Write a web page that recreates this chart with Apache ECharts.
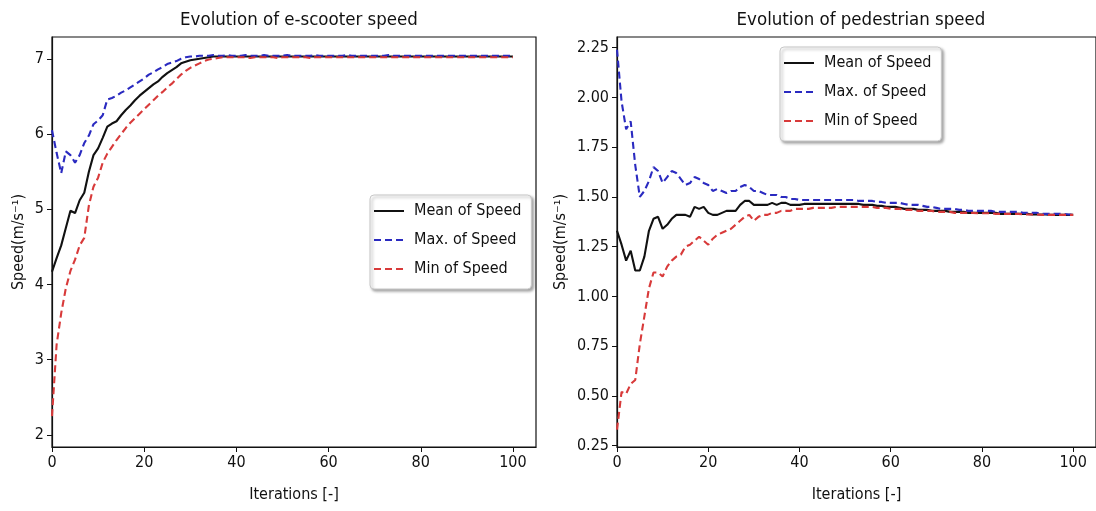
<!DOCTYPE html>
<html>
<head>
<meta charset="utf-8">
<script src="https://cdn.jsdelivr.net/npm/echarts@6/dist/echarts.min.js"></script>
<style>
html,body{margin:0;padding:0;background:#fff;}
#chart{width:1096px;height:511px;}
</style>
</head>
<body>
<div id="chart"></div>
<script>
// ---- data ----
const iterations = Array.from({length: 101}, (_, i) => i);

const scooterMean = [4.17,4.35,4.52,4.75,4.98,4.95,5.12,5.22,5.50,5.72,5.81,5.95,6.10,6.14,6.17,6.25,6.32,6.38,6.45,6.51,
  6.56,6.61,6.66,6.70,6.76,6.81,6.85,6.89,6.94,6.96,6.98,6.99,7.00,7.01,7.02,7.03,7.03,7.03,7.03,7.03,
  7.03,7.03,7.03,7.03,7.03,7.03,7.03,7.03,7.03,7.03,7.03,7.03,7.03,7.03,7.03,7.03,7.03,7.03,7.03,7.03,
  7.03,7.03,7.03,7.03,7.03,7.03,7.03,7.03,7.03,7.03,7.03,7.03,7.03,7.03,7.03,7.03,7.03,7.03,7.03,7.03,
  7.03,7.03,7.03,7.03,7.03,7.03,7.03,7.03,7.03,7.03,7.03,7.03,7.03,7.03,7.03,7.03,7.03,7.03,7.03,7.03,7.03];
const scooterMax = [6.05,5.75,5.48,5.77,5.72,5.62,5.72,5.88,5.98,6.13,6.18,6.25,6.46,6.48,6.51,6.55,6.58,6.62,6.66,6.70,
  6.74,6.79,6.82,6.86,6.89,6.93,6.95,6.97,7.00,7.02,7.03,7.03,7.04,7.04,7.04,7.05,7.04,7.04,7.05,7.04,
  7.04,7.04,7.05,7.04,7.04,7.04,7.05,7.04,7.04,7.04,7.04,7.05,7.04,7.04,7.04,7.04,7.04,7.05,7.04,7.04,
  7.04,7.04,7.04,7.04,7.05,7.04,7.04,7.04,7.04,7.04,7.04,7.04,7.04,7.05,7.04,7.04,7.04,7.04,7.04,7.04,
  7.04,7.04,7.04,7.04,7.04,7.04,7.04,7.04,7.04,7.04,7.04,7.04,7.04,7.04,7.04,7.04,7.04,7.04,7.04,7.04,7.04];
const scooterMin = [2.25,3.20,3.62,3.95,4.18,4.33,4.52,4.62,5.05,5.30,5.42,5.62,5.74,5.83,5.92,6.00,6.08,6.15,6.21,6.27,
  6.33,6.39,6.45,6.51,6.56,6.62,6.67,6.73,6.79,6.84,6.88,6.91,6.94,6.97,6.99,7.00,7.01,7.02,7.02,7.02,
  7.02,7.02,7.02,7.01,7.02,7.02,7.02,7.02,7.02,7.01,7.02,7.02,7.02,7.02,7.02,7.02,7.01,7.02,7.02,7.02,
  7.02,7.02,7.02,7.02,7.02,7.02,7.02,7.02,7.02,7.02,7.02,7.02,7.02,7.02,7.02,7.02,7.02,7.02,7.02,7.02,
  7.02,7.02,7.02,7.02,7.02,7.02,7.02,7.02,7.02,7.02,7.02,7.02,7.02,7.02,7.02,7.02,7.02,7.02,7.02,7.02,7.02];

const pedMean = [1.33,1.26,1.18,1.23,1.13,1.13,1.20,1.33,1.39,1.40,1.34,1.36,1.39,1.41,1.41,1.41,1.40,1.45,1.44,1.45,
  1.42,1.41,1.41,1.42,1.43,1.43,1.43,1.46,1.48,1.48,1.46,1.46,1.46,1.46,1.47,1.46,1.47,1.47,1.46,1.46,
  1.46,1.465,1.465,1.465,1.465,1.465,1.465,1.465,1.465,1.465,1.465,1.465,1.465,1.465,1.46,1.46,1.46,1.455,1.455,1.45,
  1.45,1.45,1.445,1.44,1.44,1.44,1.435,1.435,1.435,1.43,1.43,1.43,1.43,1.425,1.425,1.425,1.425,1.42,1.42,1.42,
  1.42,1.42,1.42,1.42,1.415,1.415,1.415,1.415,1.415,1.415,1.415,1.412,1.412,1.412,1.412,1.41,1.41,1.41,1.41,1.41,1.41];
const pedMax = [2.24,1.98,1.84,1.88,1.66,1.50,1.53,1.58,1.65,1.63,1.57,1.60,1.63,1.62,1.59,1.56,1.57,1.60,1.59,1.57,
  1.56,1.53,1.54,1.53,1.52,1.53,1.53,1.55,1.56,1.55,1.53,1.53,1.52,1.51,1.51,1.51,1.50,1.50,1.49,1.49,
  1.485,1.485,1.485,1.485,1.485,1.485,1.485,1.485,1.485,1.485,1.485,1.485,1.485,1.48,1.48,1.48,1.48,1.475,1.475,1.47,
  1.47,1.47,1.47,1.465,1.46,1.46,1.46,1.455,1.45,1.45,1.445,1.44,1.44,1.44,1.44,1.435,1.435,1.43,1.43,1.43,
  1.43,1.43,1.43,1.425,1.425,1.425,1.425,1.425,1.425,1.42,1.42,1.42,1.42,1.415,1.415,1.415,1.415,1.415,1.415,1.412,1.412];
const pedMin = [0.33,0.52,0.51,0.56,0.58,0.76,0.90,1.04,1.12,1.12,1.10,1.15,1.18,1.20,1.21,1.25,1.26,1.28,1.30,1.28,
  1.26,1.29,1.31,1.32,1.33,1.34,1.36,1.38,1.40,1.41,1.38,1.40,1.41,1.41,1.42,1.42,1.43,1.43,1.43,1.44,
  1.44,1.44,1.44,1.445,1.445,1.445,1.445,1.445,1.45,1.45,1.45,1.45,1.45,1.45,1.45,1.45,1.45,1.445,1.445,1.445,
  1.44,1.44,1.44,1.435,1.435,1.435,1.43,1.43,1.43,1.43,1.425,1.425,1.425,1.425,1.42,1.42,1.42,1.42,1.42,1.418,
  1.418,1.418,1.418,1.415,1.415,1.415,1.415,1.415,1.415,1.412,1.412,1.412,1.412,1.41,1.41,1.41,1.41,1.41,1.41,1.41,1.41];

const xTicks = [0, 20, 40, 60, 80, 100];
const yTicksScooter = [2, 3, 4, 5, 6, 7];
const yTicksPed = [0.25, 0.50, 0.75, 1.00, 1.25, 1.50, 1.75, 2.00, 2.25];

const seriesNames = ['Mean of Speed', 'Max. of Speed', 'Min of Speed'];
const titles = ['Evolution of e-scooter speed', 'Evolution of pedestrian speed'];
const xName = 'Iterations [-]';
const yName = 'Speed(m/s\u207B\u00B9)';

// ---- chart ----
const FONT = '"DejaVu Sans Condensed", "Liberation Sans Narrow", "DejaVu Sans", sans-serif';
const COLORS = ['#111111', '#2a2ac0', '#d83a3a'];
const pair = arr => arr.map((v, i) => [iterations[i], v]);

function xAxisCfg(gi) {
  return {
    type: 'value', gridIndex: gi, min: 0, max: 105,
    name: xName, nameLocation: 'middle', nameGap: 40,
    nameTextStyle: {fontFamily: FONT, fontSize: 16, color: '#111'},
    axisLine: {show: true, lineStyle: {color: '#111', width: 1.2}},
    axisTick: {show: true, length: 5, inside: false, customValues: xTicks, lineStyle: {color: '#111'}},
    axisLabel: {customValues: xTicks, margin: 8, fontFamily: FONT, fontSize: 16, color: '#111'},
    splitLine: {show: false}
  };
}
function yAxisCfg(gi, min, max, ticks, fmt, gap) {
  return {
    type: 'value', gridIndex: gi, min: min, max: max,
    name: yName, nameLocation: 'middle', nameGap: gap,
    nameTextStyle: {fontFamily: FONT, fontSize: 16, color: '#111'},
    axisLine: {show: true, lineStyle: {color: '#111', width: 1.2}},
    axisTick: {show: true, length: 5, inside: false, customValues: ticks, lineStyle: {color: '#111'}},
    axisLabel: {customValues: ticks, margin: 8, fontFamily: FONT, fontSize: 16, color: '#111',
      formatter: v => fmt(v)},
    splitLine: {show: false}
  };
}
function legendCfg(left, top) {
  return {
    data: seriesNames, orient: 'vertical', left: left, top: top,
    itemWidth: 30, itemHeight: 14, itemGap: 13,
    itemStyle: {opacity: 0},
    textStyle: {fontFamily: FONT, fontSize: 16, color: '#111', padding: [0, 0, 0, 5]},
    backgroundColor: '#fff', borderColor: '#c8c8c8', borderWidth: 1, borderRadius: 4,
    padding: [8, 10, 12, 3],
    shadowColor: 'rgba(0,0,0,0.35)', shadowBlur: 3, shadowOffsetX: 2, shadowOffsetY: 2,
    selectedMode: false
  };
}
function lineSeries(name, data, gi, ci) {
  return {
    name: name, type: 'line', xAxisIndex: gi, yAxisIndex: gi, data: pair(data),
    symbol: 'none', smooth: false, animation: false,
    lineStyle: {color: COLORS[ci], width: 2.1, type: ci === 0 ? 'solid' : [7, 4]},
    itemStyle: {color: COLORS[ci]}
  };
}

const chart = echarts.init(document.getElementById('chart'), null, {renderer: 'canvas'});
chart.setOption({
  animation: false,
  backgroundColor: '#fff',
  title: [
    {text: titles[0], left: 294, top: 6, textAlign: 'center',
      textStyle: {fontFamily: FONT, fontSize: 18.5, fontWeight: 'normal', color: '#111'}},
    {text: titles[1], left: 856, top: 6, textAlign: 'center',
      textStyle: {fontFamily: FONT, fontSize: 18.5, fontWeight: 'normal', color: '#111'}}
  ],
  grid: [
    {left: 52, top: 37, width: 484, height: 410, show: true, borderColor: '#111', borderWidth: 1.2, backgroundColor: 'transparent'},
    {left: 617, top: 37, width: 483, height: 410, show: true, borderColor: '#111', borderWidth: 1.2, backgroundColor: 'transparent'}
  ],
  xAxis: [xAxisCfg(0), xAxisCfg(1)],
  yAxis: [
    yAxisCfg(0, 1.84, 7.29, yTicksScooter, v => String(Math.round(v)), 25),
    yAxisCfg(1, 0.243, 2.304, yTicksPed, v => v.toFixed(2), 48)
  ],
  legend: [legendCfg(370, 195), legendCfg(780, 47)],
  series: [
    lineSeries(seriesNames[0], scooterMean, 0, 0),
    lineSeries(seriesNames[1], scooterMax, 0, 1),
    lineSeries(seriesNames[2], scooterMin, 0, 2),
    lineSeries(seriesNames[0], pedMean, 1, 0),
    lineSeries(seriesNames[1], pedMax, 1, 1),
    lineSeries(seriesNames[2], pedMin, 1, 2)
  ]
});
</script>
</body>
</html>
